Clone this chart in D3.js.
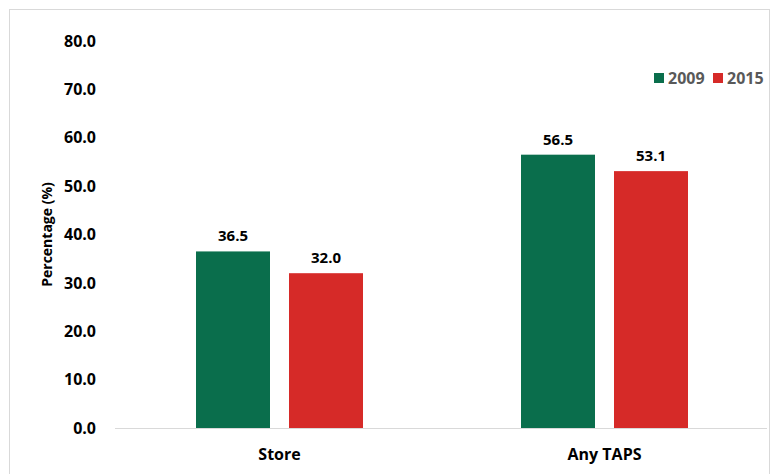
<!DOCTYPE html>
<html>
<head>
<meta charset="utf-8">
<script src="https://cdn.jsdelivr.net/npm/d3@7"></script>
<style>
  body { margin: 0; background: #fff; }
  svg { font-family: "Open Sans", "Liberation Sans", sans-serif; }
</style>
</head>
<body>
<svg id="chart" width="772" height="474"></svg>
<script>
const categories = ['Store', 'Any TAPS']
const seriesNames = ['2009', '2015']
const values2009 = [36.5, 56.5]
const values2015 = [32.0, 53.1]
const yTicks = [0, 10, 20, 30, 40, 50, 60, 70, 80]
const colors = { '2009': '#0a6e4c', '2015': '#d62a28' }

const svg = d3.select('#chart')
const W = 772, H = 474
const m = { left: 117, right: 5, top: 41, bottom: 46 }

// outer frame
svg.append('rect')
  .attr('x', 9.5).attr('y', 9.5)
  .attr('width', W - 12).attr('height', H + 10)
  .attr('fill', '#fff').attr('stroke', '#d9d9d9')

const x = d3.scaleBand().domain(categories).range([m.left, W - m.right]).padding(0)
const x1 = d3.scaleBand().domain(seriesNames).range([0, 167]).paddingInner(19 / 93)
const y = d3.scaleLinear().domain([0, 80]).range([H - m.bottom, m.top])

const rows = categories.map((c, i) => ({ cat: c, '2009': values2009[i], '2015': values2015[i] }))

// axis line
svg.append('line')
  .attr('x1', 115).attr('x2', W - m.right)
  .attr('y1', y(0) + 0.5).attr('y2', y(0) + 0.5)
  .attr('stroke', '#d9d9d9').attr('stroke-width', 1)

const yAxis = svg.append('g')
  .attr('transform', 'translate(99,0)')
  .call(d3.axisLeft(y).tickValues(yTicks).tickFormat(d3.format('.1f')).tickSize(0))
yAxis.select('.domain').remove()
yAxis.selectAll('text')
  .attr('font-size', 16).attr('font-weight', 'bold').attr('fill', '#000')
  .attr('font-family', '"Open Sans", sans-serif')

const xAxis = svg.append('g')
  .attr('transform', 'translate(0,' + (y(0) + 18) + ')')
  .call(d3.axisBottom(x).tickSize(0))
xAxis.select('.domain').remove()
xAxis.selectAll('text')
  .attr('font-size', 16).attr('font-weight', 'bold').attr('fill', '#000')
  .attr('font-family', '"Open Sans", sans-serif')

svg.append('text')
  .attr('transform', 'translate(52,' + ((y(0) + y(80)) / 2) + ') rotate(-90)')
  .attr('text-anchor', 'middle')
  .attr('font-size', 14).attr('font-weight', 'bold')
  .text('Percentage (%)')

const groups = svg.selectAll('.grp')
  .data(rows)
  .enter().append('g')
  .attr('class', 'grp')
  .attr('transform', d => 'translate(' + (x(d.cat) + (x.bandwidth() - 167) / 2) + ',0)')

groups.selectAll('rect')
  .data(d => seriesNames.map(s => ({ s: s, v: d[s] })))
  .enter().append('rect')
  .attr('x', d => x1(d.s))
  .attr('width', x1.bandwidth())
  .attr('y', d => y(d.v))
  .attr('height', d => y(0) - y(d.v))
  .attr('fill', d => colors[d.s])

groups.selectAll('.lbl')
  .data(d => seriesNames.map(s => ({ s: s, v: d[s] })))
  .enter().append('text')
  .attr('class', 'lbl')
  .attr('x', d => x1(d.s) + x1.bandwidth() / 2)
  .attr('y', d => y(d.v) - 10)
  .attr('text-anchor', 'middle')
  .attr('font-size', 15).attr('font-weight', 'bold')
  .text(d => d3.format('.1f')(d.v))

// legend
const leg = svg.append('g').attr('transform', 'translate(654,73)')
const legX = [0, 59]
seriesNames.forEach((s, i) => {
  leg.append('rect').attr('x', legX[i]).attr('y', 0).attr('width', 10).attr('height', 10).attr('fill', colors[s])
  leg.append('text').attr('x', legX[i] + 14).attr('y', 11)
    .attr('font-size', 16).attr('font-weight', 'bold').attr('fill', '#595959')
    .text(s)
})
</script>
</body>
</html>
